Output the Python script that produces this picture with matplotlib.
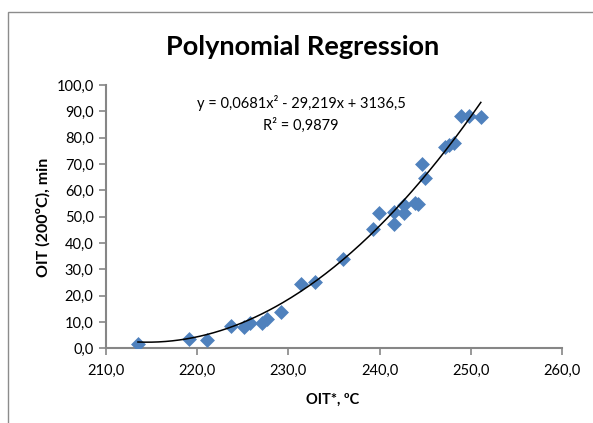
import numpy as np
import matplotlib
matplotlib.use("Agg")
import matplotlib.pyplot as plt
from matplotlib.patches import Rectangle

plt.rcParams['font.family'] = ['Lato', 'DejaVu Sans']

# data
oit_star = [213.5, 219.1, 221.1, 223.7, 225.1, 225.8, 227.1, 227.6, 229.2,
            231.4, 232.9, 236.0, 239.3, 239.9, 241.6, 241.6, 242.7, 242.7,
            243.9, 244.2, 244.7, 245.0, 247.2, 247.6, 248.2, 248.9, 249.8, 251.1]
oit_200 = [1.5, 3.5, 3.2, 8.5, 8.2, 9.7, 9.5, 11.0, 13.7,
           24.4, 25.2, 33.8, 45.3, 51.5, 51.9, 47.2, 51.3, 54.4,
           55.1, 54.7, 70.0, 64.6, 76.3, 77.2, 78.1, 88.2, 88.3, 88.0]

# trendline coefficients as printed on the chart
coef = [0.0681, -29.219, 3136.5]
r2 = 0.9879

x_ticks = [210, 220, 230, 240, 250, 260]
y_ticks = [0, 10, 20, 30, 40, 50, 60, 70, 80, 90, 100]

W, H = 593, 423
fig = plt.figure(figsize=(W / 100, H / 100), dpi=100)
ax = fig.add_axes([106 / W, 1 - 348.3 / H, 456 / W, 263.3 / H])

# outer chart border (cropped on right/bottom)
fig.patches.append(Rectangle((8 / W, -0.1), 1.2, (H - 12) / H + 0.1,
                             transform=fig.transFigure, fill=False,
                             edgecolor='#8c8c8c', linewidth=1.0))

ax.scatter(oit_star, oit_200, marker='D', s=7.6 ** 2, color='#4F81BD',
           zorder=3, linewidths=0)

xs = np.linspace(min(oit_star), max(oit_star), 200)
ax.plot(xs, np.polyval(coef, xs), color='black', linewidth=1.1, zorder=4)

ax.set_xlim(210, 260)
ax.set_ylim(0, 100)
ax.set_xticks(x_ticks)
ax.set_yticks(y_ticks)
fmt = lambda v: f"{v:.1f}".replace('.', ',')
ax.set_xticklabels([fmt(v) for v in x_ticks])
ax.set_yticklabels([fmt(v) for v in y_ticks])

for side in ['top', 'right']:
    ax.spines[side].set_visible(False)
for side in ['left', 'bottom']:
    ax.spines[side].set_color('#868686')
    ax.spines[side].set_linewidth(1.5)
ax.tick_params(axis='both', colors='#868686', labelcolor='black',
               labelsize=10.5, length=5, width=1.2, direction='out')
ax.tick_params(axis='x', pad=6)
ax.tick_params(axis='y', pad=4)

fig.text(303 / W, 1 - 47 / H, 'Polynomial Regression', ha='center', va='center',
         fontsize=19.5, fontweight='bold')
fig.text(333 / W, 1 - 400 / H, 'OIT*, ºC', ha='center', va='center',
         fontsize=10.5, fontweight='bold')
fig.text(43 / W, 1 - 217 / H, 'OIT (200ºC), min', ha='center', va='center',
         rotation=90, fontsize=11.5, fontweight='bold')

eq = f"y = {coef[0]}x² - {-coef[1]}x + {coef[2]}".replace('.', ',')
fig.text(301 / W, 1 - 103 / H, eq, ha='center', va='center', fontsize=10.5)
fig.text(301 / W, 1 - 125 / H, f"R² = {r2}".replace('.', ','), ha='center',
         va='center', fontsize=10.5)

fig.savefig('out.png', dpi=100)
